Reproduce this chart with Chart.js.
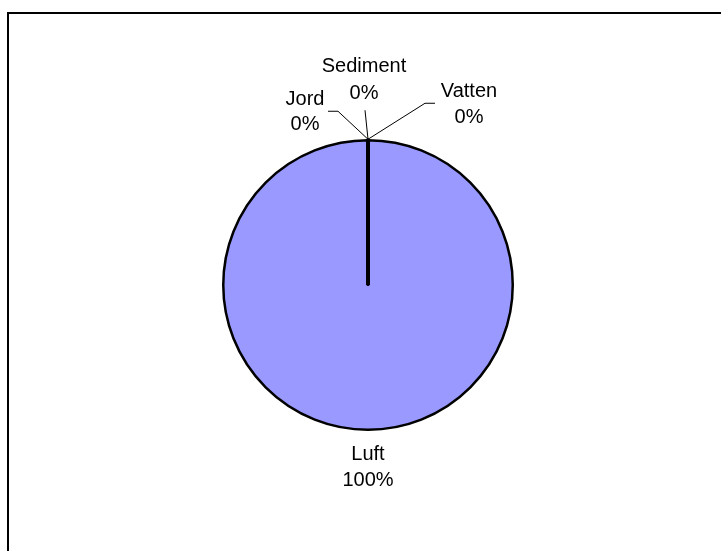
<!DOCTYPE html>
<html>
<head>
<meta charset="utf-8">
<script src="https://cdn.jsdelivr.net/npm/chart.js@4"></script>
<style>
  html, body { margin: 0; padding: 0; background: #fff; overflow: hidden; }
  #frame {
    position: absolute; left: 7px; top: 12px; width: 760px; height: 600px;
    border-left: 2px solid #000; border-top: 2px solid #000;
  }
  #pie { position: absolute; left: 0; top: 0; }
</style>
</head>
<body>
<div id="frame"></div>
<canvas id="pie" width="721" height="551"></canvas>
<script>
// compartments and their share
const compartments = ['Luft', 'Vatten', 'Sediment', 'Jord'];
const shares = [100, 0, 0, 0];

// where each label sits relative to its slice's edge point:
// text centre x/baseline y for both lines, and the leader line bend points
const labelLayout = {
    'Luft':     { dx: 0,   dy: [29, 55],   leader: [] },
    'Vatten':   { dx: 101, dy: [-42, -16], leader: [[57, -36], [67, -36]] },
    'Sediment': { dx: -4,  dy: [-67, -40], leader: [[-3, -29]] },
    'Jord':     { dx: -63, dy: [-34, -9],  leader: [[-30, -28], [-40, -28]] }
};

const sliceLabels = {
    id: 'sliceLabels',
    afterDatasetsDraw(chart) {
        const ctx = chart.ctx;
        const meta = chart.getDatasetMeta(0);
        const values = chart.data.datasets[0].data;
        const total = values.reduce((a, b) => a + b, 0);
        ctx.save();
        // empty slices still get their radial edge drawn, like a closed wedge
        ctx.strokeStyle = '#000';
        ctx.lineWidth = 3.5;
        ctx.lineCap = 'round';
        meta.data.forEach((arc, i) => {
            if (values[i] !== 0) return;
            const p = arc.getProps(['x', 'y', 'startAngle', 'outerRadius'], true);
            ctx.beginPath();
            ctx.moveTo(p.x, p.y - 1);
            ctx.lineTo(p.x + Math.cos(p.startAngle) * p.outerRadius, p.y + Math.sin(p.startAngle) * p.outerRadius);
            ctx.stroke();
        });
        ctx.lineCap = 'butt';
        ctx.font = '20px "Liberation Sans", Arial, sans-serif';
        ctx.fillStyle = '#000';
        ctx.lineWidth = 1;
        ctx.textAlign = 'center';
        ctx.textBaseline = 'alphabetic';
        meta.data.forEach((arc, i) => {
            const p = arc.getProps(['x', 'y', 'startAngle', 'endAngle', 'outerRadius'], true);
            const mid = (p.startAngle + p.endAngle) / 2;
            const ex = p.x + Math.cos(mid) * (p.outerRadius + 1);
            const ey = p.y + Math.sin(mid) * (p.outerRadius + 1);
            const name = chart.data.labels[i];
            const lay = labelLayout[name];
            if (lay.leader.length) {
                ctx.beginPath();
                ctx.moveTo(ex, ey);
                lay.leader.forEach(pt => ctx.lineTo(ex + pt[0], ey + pt[1]));
                ctx.stroke();
            }
            const pct = Math.round(values[i] / total * 100) + '%';
            ctx.fillText(name, ex + lay.dx, ey + lay.dy[0]);
            ctx.fillText(pct, ex + lay.dx, ey + lay.dy[1]);
        });
        ctx.restore();
    }
};

new Chart(document.getElementById('pie'), {
    type: 'pie',
    data: {
        labels: compartments,
        datasets: [{
            data: shares,
            backgroundColor: '#9999FF',
            borderColor: '#000',
            borderWidth: 2.5
        }]
    },
    options: {
        responsive: false,
        animation: false,
        layout: { padding: { top: 139, bottom: 120, left: 15, right: 0 } },
        plugins: {
            legend: { display: false },
            tooltip: { enabled: false }
        }
    },
    plugins: [sliceLabels]
});
</script>
</body>
</html>
